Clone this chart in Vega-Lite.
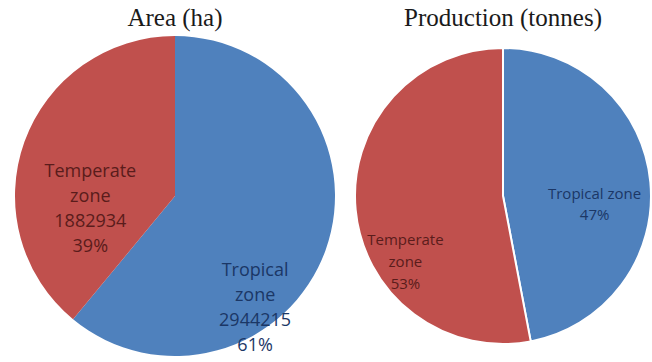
{
  "$schema": "https://vega.github.io/schema/vega-lite/v6.json",
  "background": "white",
  "padding": {"left": 0, "top": 6, "right": 0, "bottom": 0},
  "spacing": 0,
  "config": {
    "view": {"stroke": null},
    "title": {"font": "Liberation Serif", "fontSize": 25, "fontWeight": "normal", "color": "#1a1a1a", "offset": 4},
    "text": {"lineBreak": "\n"}
  },
  "datasets": {
    "area": [
      {"zone": "Tropical zone", "value": 2944215, "label": "Tropical\nzone\n2944215\n61%"},
      {"zone": "Temperate zone", "value": 1882934, "label": "Temperate\nzone\n1882934\n39%"}
    ],
    "production": [
      {"zone": "Tropical zone", "share": 47, "label": "Tropical zone\n47%"},
      {"zone": "Temperate zone", "share": 53, "label": "Temperate\nzone\n53%"}
    ]
  },
  "hconcat": [
    {
      "title": "Area  (ha)",
      "width": 350,
      "height": 322,
      "data": {"name": "area"},
      "encoding": {
        "theta": {"field": "value", "type": "quantitative", "stack": true},
        "order": {"field": "zone", "sort": "descending"},
        "color": {
          "field": "zone", "type": "nominal", "legend": null,
          "scale": {"domain": ["Tropical zone", "Temperate zone"], "range": ["#4f81bd", "#c0504d"]}
        }
      },
      "layer": [
        {"mark": {"type": "arc", "outerRadius": 160}},
        {
          "mark": {"type": "text", "radius": 90, "dy": 6, "font": "Open Sans", "fontSize": 18, "lineHeight": 25, "color": "#5a1c1b"},
          "encoding": {"text": {"condition": {"test": "datum.zone === 'Temperate zone'", "field": "label"}, "value": ""}, "color": {"value": "#5a1c1b"}}
        },
        {
          "mark": {"type": "text", "radius": 100, "dx": -14, "dy": 41, "font": "Open Sans", "fontSize": 18, "lineHeight": 25},
          "encoding": {"text": {"condition": {"test": "datum.zone === 'Tropical zone'", "field": "label"}, "value": ""}, "color": {"value": "#1b3766"}}
        }
      ]
    },
    {
      "title": "Production  (tonnes)",
      "width": 306,
      "height": 322,
      "data": {"name": "production"},
      "encoding": {
        "theta": {"field": "share", "type": "quantitative", "stack": true},
        "order": {"field": "zone", "sort": "descending"},
        "color": {
          "field": "zone", "type": "nominal", "legend": null,
          "scale": {"domain": ["Tropical zone", "Temperate zone"], "range": ["#4f81bd", "#c0504d"]}
        }
      },
      "layer": [
        {"mark": {"type": "arc", "outerRadius": 148, "stroke": "white", "strokeWidth": 2}},
        {
          "mark": {"type": "text", "radius": 98, "dy": 35, "font": "Open Sans", "fontSize": 15, "lineHeight": 22},
          "encoding": {"text": {"condition": {"test": "datum.zone === 'Temperate zone'", "field": "label"}, "value": ""}, "color": {"value": "#5a1c1b"}}
        },
        {
          "mark": {"type": "text", "radius": 92, "dy": 7, "font": "Open Sans", "fontSize": 15, "lineHeight": 21},
          "encoding": {"text": {"condition": {"test": "datum.zone === 'Tropical zone'", "field": "label"}, "value": ""}, "color": {"value": "#1b3766"}}
        }
      ]
    }
  ]
}
